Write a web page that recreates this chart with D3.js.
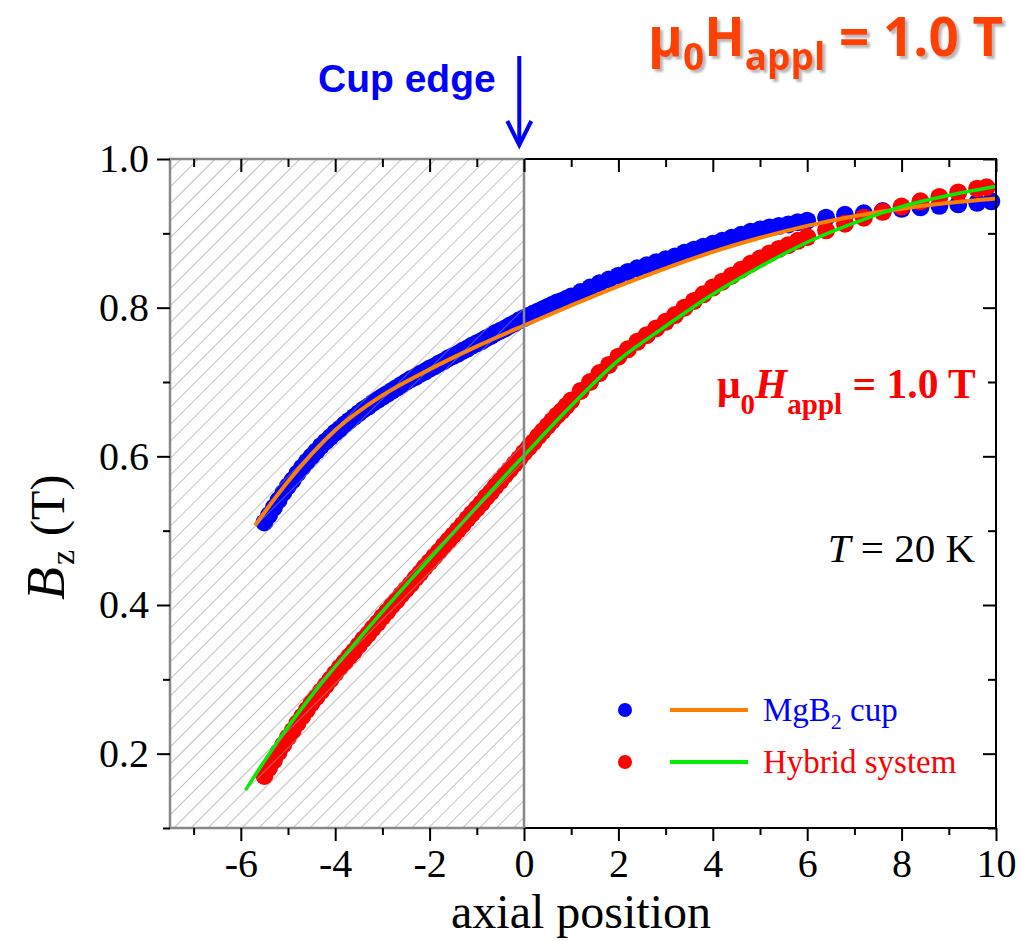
<!DOCTYPE html>
<meta charset="utf-8">
<style>
body { margin: 0; background: #fff; }
svg { display: block; }
.serif { font-family: "Liberation Serif", "Times New Roman", serif; }
.tick text { font-family: "Liberation Serif", serif; font-size: 40px; fill: #000; }
.tick line { stroke: #000; stroke-width: 2; }
</style>
<body>
<script src="https://d3js.org/d3.v7.min.js"></script>
<script>

// MgB2 cup, measured points
var cupX = [-5.5,-5.4,-5.3,-5.2,-5.1,-5.0,-4.9,-4.8,-4.7,-4.6,-4.5,-4.4,-4.3,-4.2,-4.1,-4.0,-3.9,-3.8,-3.7,-3.6,-3.5,-3.4,-3.3,-3.2,-3.1,-3.0,-2.9,-2.8,-2.7,-2.6,-2.5,-2.4,-2.3,-2.2,-2.1,-2.0,-1.9,-1.8,-1.7,-1.6,-1.5,-1.4,-1.3,-1.2,-1.1,-1.0,-0.9,-0.8,-0.7,-0.6,-0.5,-0.4,-0.3,-0.2,-0.1,0.0,0.1,0.2,0.3,0.4,0.5,0.6,0.7,0.8,0.9,1.0,
  1.2,1.4,1.6,1.8,2.0,2.2,2.4,2.6,2.8,3.0,3.2,3.4,3.6,3.8,4.0,4.2,4.4,4.6,4.8,5.0,5.2,5.4,5.6,5.8,6.0,
  6.4,6.8,7.2,7.6,8.0,8.4,8.8,9.2,9.6,9.9];
var cupY = [0.511,0.521,0.531,0.541,0.551,0.560,0.568,0.577,0.585,0.593,0.600,0.607,0.614,0.620,0.626,0.632,0.637,0.643,0.648,0.653,0.658,0.663,0.667,0.672,0.676,0.680,0.684,0.688,0.692,0.696,0.700,0.704,0.707,0.711,0.714,0.718,0.721,0.725,0.728,0.732,0.735,0.738,0.742,0.745,0.749,0.752,0.755,0.759,0.762,0.766,0.769,0.772,0.776,0.779,0.783,0.786,0.789,0.792,0.795,0.798,0.801,0.804,0.807,0.809,0.812,0.815,
  0.821,0.827,0.833,0.838,0.843,0.848,0.853,0.857,0.861,0.865,0.869,0.874,0.878,0.882,0.886,0.890,0.894,0.898,0.902,0.905,0.908,0.910,0.912,0.915,0.917,
  0.921,0.925,0.927,0.930,0.933,0.935,0.937,0.939,0.941,0.943];

// Hybrid system, measured points
var hybX = [-5.5,-5.4,-5.3,-5.2,-5.1,-5.0,-4.9,-4.8,-4.7,-4.6,-4.5,-4.4,-4.3,-4.2,-4.1,-4.0,-3.9,-3.8,-3.7,-3.6,-3.5,-3.4,-3.3,-3.2,-3.1,-3.0,-2.9,-2.8,-2.7,-2.6,-2.5,-2.4,-2.3,-2.2,-2.1,-2.0,-1.9,-1.8,-1.7,-1.6,-1.5,-1.4,-1.3,-1.2,-1.1,-1.0,-0.9,-0.8,-0.7,-0.6,-0.5,-0.4,-0.3,-0.2,-0.1,0.0,0.1,0.2,0.3,0.4,0.5,0.6,0.7,0.8,0.9,1.0,
  1.2,1.4,1.6,1.8,2.0,2.2,2.4,2.6,2.8,3.0,3.2,3.4,3.6,3.8,4.0,4.2,4.4,4.6,4.8,5.0,5.2,5.4,5.6,5.8,6.0,
  6.4,6.8,7.2,7.6,8.0,8.4,8.8,9.2,9.6,9.8];
var hybY = [0.170,0.181,0.191,0.202,0.212,0.222,0.231,0.241,0.250,0.259,0.268,0.276,0.284,0.292,0.300,0.308,0.316,0.323,0.331,0.338,0.346,0.354,0.361,0.369,0.376,0.384,0.391,0.399,0.406,0.414,0.421,0.428,0.436,0.443,0.451,0.458,0.465,0.472,0.480,0.487,0.494,0.501,0.508,0.516,0.523,0.530,0.537,0.545,0.552,0.560,0.567,0.575,0.582,0.590,0.597,0.605,0.612,0.619,0.627,0.634,0.641,0.648,0.655,0.661,0.668,0.675,
  0.688,0.700,0.712,0.723,0.734,0.744,0.754,0.763,0.772,0.781,0.790,0.800,0.809,0.818,0.827,0.835,0.843,0.851,0.859,0.866,0.873,0.879,0.884,0.890,0.895,
  0.904,0.913,0.921,0.929,0.936,0.943,0.949,0.955,0.960,0.962];

// fit curves
var cupFitX = [-5.7,-5,-4,-3,-2,-1,0,1,2,3,4,5,6,7,8,9,10];
var cupFitY = [0.507,0.566,0.635,0.682,0.717,0.748,0.776,0.803,0.829,0.853,0.875,0.894,0.910,0.923,0.933,0.941,0.947];
var hybFitX = [-5.9,-5.5,-5,-4.5,-4,-3.5,-3,-2.5,-2,-1.5,-1,-0.5,0,1,2,3,4,5,6,7,8,9,10];
var hybFitY = [0.151,0.190,0.236,0.278,0.317,0.354,0.391,0.427,0.462,0.497,0.532,0.567,0.601,0.668,0.729,0.775,0.818,0.855,0.888,0.914,0.936,0.951,0.963];

var xMajor = [-6,-4,-2,0,2,4,6,8,10];
var xMinor = [-7,-5,-3,-1,1,3,5,7,9];
var yMajor = [0.2,0.4,0.6,0.8,1.0];
var yMinor = [0.1,0.3,0.5,0.7,0.9];

var W = 1021, H = 941;
var x = d3.scaleLinear().domain([-7.5, 10]).range([170, 996]);
var y = d3.scaleLinear().domain([0.1, 1.0]).range([828, 159]);

var svg = d3.select('body').append('svg')
    .attr('width', W)
    .attr('height', H);

var defs = svg.append('defs');
var pat = defs.append('pattern')
    .attr('id', 'hatch')
    .attr('patternUnits', 'userSpaceOnUse')
    .attr('width', 12)
    .attr('height', 12)
    .attr('patternTransform', 'rotate(45)');
pat.append('line')
    .attr('x1', 0).attr('y1', 0).attr('x2', 0).attr('y2', 12)
    .attr('stroke', '#999').attr('stroke-width', 1.2);

var shadow = defs.append('filter')
    .attr('id', 'shadow')
    .attr('x', '-5%').attr('y', '-10%').attr('width', '115%').attr('height', '130%');
shadow.append('feDropShadow')
    .attr('dx', 3).attr('dy', 3).attr('stdDeviation', 1)
    .attr('flood-color', '#888').attr('flood-opacity', 0.6);

// data points
var cup = cupX.map(function(v, i) { return [v, cupY[i]]; });
var hyb = hybX.map(function(v, i) { return [v, hybY[i]]; });

svg.append('g').selectAll('circle')
    .data(cup)
  .enter().append('circle')
    .attr('cx', function(d) { return x(d[0]); })
    .attr('cy', function(d) { return y(d[1]); })
    .attr('r', 9)
    .attr('fill', '#0000ff');

svg.append('g').selectAll('circle')
    .data(hyb)
  .enter().append('circle')
    .attr('cx', function(d) { return x(d[0]); })
    .attr('cy', function(d) { return y(d[1]); })
    .attr('r', 9)
    .attr('fill', '#ff0000');

var line = d3.line()
    .x(function(d) { return x(d[0]); })
    .y(function(d) { return y(d[1]); })
    .curve(d3.curveMonotoneX);

svg.append('path')
    .datum(cupFitX.map(function(v, i) { return [v, cupFitY[i]]; }))
    .attr('d', line)
    .attr('fill', 'none')
    .attr('stroke', '#ff8000')
    .attr('stroke-width', 4);

svg.append('path')
    .datum(hybFitX.map(function(v, i) { return [v, hybFitY[i]]; }))
    .attr('d', line)
    .attr('fill', 'none')
    .attr('stroke', '#00ee00')
    .attr('stroke-width', 3.5);

// frame
svg.append('rect')
    .attr('x', x(-7.5)).attr('y', y(1.0))
    .attr('width', x(10) - x(-7.5))
    .attr('height', y(0.1) - y(1.0))
    .attr('fill', 'none')
    .attr('stroke', '#000')
    .attr('stroke-width', 2);

// hatched cup region
svg.append('rect')
    .attr('x', x(-7.5)).attr('y', y(1.0))
    .attr('width', x(0) - x(-7.5))
    .attr('height', y(0.1) - y(1.0))
    .attr('fill', 'url(#hatch)')
    .attr('stroke', '#888')
    .attr('stroke-width', 2.5);

// axes
function noDomain(g) { g.select('.domain').remove(); }
function fmtX(d) { return String(d); }

svg.append('g')
    .attr('transform', 'translate(0,' + y(0.1) + ')')
    .call(d3.axisBottom(x).tickValues(xMajor).tickSize(13).tickPadding(8).tickFormat(fmtX))
    .call(noDomain);
svg.append('g')
    .attr('transform', 'translate(0,' + y(0.1) + ')')
    .call(d3.axisBottom(x).tickValues(xMinor).tickSize(7).tickFormat(''))
    .call(noDomain);
svg.append('g')
    .attr('transform', 'translate(0,' + y(1.0) + ')')
    .call(d3.axisTop(x).tickValues(xMajor).tickSize(-13).tickFormat(''))
    .call(noDomain);
svg.append('g')
    .attr('transform', 'translate(0,' + y(1.0) + ')')
    .call(d3.axisTop(x).tickValues(xMinor).tickSize(-8).tickFormat(''))
    .call(noDomain);

svg.append('g')
    .attr('transform', 'translate(' + x(-7.5) + ',0)')
    .call(d3.axisLeft(y).tickValues(yMajor).tickSize(13).tickPadding(8).tickFormat(d3.format('.1f')))
    .call(noDomain);
svg.append('g')
    .attr('transform', 'translate(' + x(-7.5) + ',0)')
    .call(d3.axisLeft(y).tickValues(yMinor).tickSize(7).tickFormat(''))
    .call(noDomain);
svg.append('g')
    .attr('transform', 'translate(' + x(10) + ',0)')
    .call(d3.axisRight(y).tickValues(yMajor).tickSize(-13).tickFormat(''))
    .call(noDomain);
svg.append('g')
    .attr('transform', 'translate(' + x(10) + ',0)')
    .call(d3.axisRight(y).tickValues(yMinor).tickSize(-8).tickFormat(''))
    .call(noDomain);

svg.selectAll('.tick text').attr('font-family', null).attr('font-size', null);

// axis titles
svg.append('text')
    .attr('class', 'serif')
    .attr('x', 581).attr('y', 928)
    .attr('text-anchor', 'middle')
    .attr('font-size', 48)
    .text('axial position');

var yl = svg.append('text')
    .attr('class', 'serif')
    .attr('transform', 'translate(64,600) rotate(-90)')
    .attr('font-size', 48);
yl.append('tspan').attr('font-style', 'italic').attr('font-size', 54).text('B');
yl.append('tspan').attr('font-size', 34).attr('dy', 10).attr('dx', 2).text('z');
yl.append('tspan').attr('dy', -10).attr('dx', 14).text('(T)');

// top title
var tt = svg.append('text')
    .attr('x', 648).attr('y', 56)
    .attr('font-family', '"Open Sans", sans-serif')
    .attr('font-weight', 'bold')
    .attr('font-size', 53)
    .attr('fill', '#ff3f00')
    .attr('filter', 'url(#shadow)');
tt.append('tspan').text('\u03bc');
tt.append('tspan').attr('font-size', 37).attr('dy', 14).text('0');
tt.append('tspan').attr('dy', -14).text('H');
tt.append('tspan').attr('font-size', 37).attr('dy', 14).text('appl');
tt.append('tspan').attr('dy', -14).text(' = 1.0 T');

// cup edge label + arrow
svg.append('text')
    .attr('x', 318).attr('y', 92)
    .attr('font-family', '"Liberation Sans", Arial, sans-serif')
    .attr('font-weight', 'bold')
    .attr('font-size', 39)
    .attr('fill', '#0000ff')
    .text('Cup edge');

svg.append('line')
    .attr('x1', x(-0.1)).attr('y1', 56)
    .attr('x2', x(-0.1)).attr('y2', 140)
    .attr('stroke', '#0000ff')
    .attr('stroke-width', 4);
svg.append('path')
    .attr('d', 'M' + (x(-0.1) - 12) + ',121 L' + x(-0.1) + ',145 L' + (x(-0.1) + 12) + ',121')
    .attr('fill', 'none')
    .attr('stroke', '#0000ff')
    .attr('stroke-width', 4);

// field annotation
var fa = svg.append('text')
    .attr('class', 'serif')
    .attr('x', 717).attr('y', 398)
    .attr('font-weight', 'bold')
    .attr('font-size', 41.5)
    .attr('fill', '#ff0000');
fa.append('tspan').text('\u03bc');
fa.append('tspan').attr('font-size', 29).attr('dy', 16).text('0');
fa.append('tspan').attr('dy', -16).attr('font-style', 'italic').text('H');
fa.append('tspan').attr('font-size', 29).attr('dy', 16).text('appl');
fa.append('tspan').attr('dy', -16).text(' = 1.0 T');

var ta = svg.append('text')
    .attr('class', 'serif')
    .attr('x', 975).attr('y', 562)
    .attr('text-anchor', 'end')
    .attr('font-size', 41);
ta.append('tspan').attr('font-style', 'italic').text('T');
ta.append('tspan').text(' = 20 K');

// legend
var legend = [
  {dot: '#0000ff', line: '#ff8000', text: 'MgB', sub: '2', rest: ' cup', y: 710},
  {dot: '#ff0000', line: '#00ee00', text: 'Hybrid system', sub: '', rest: '', y: 762}
];
legend.forEach(function(l) {
  svg.append('circle').attr('cx', 625).attr('cy', l.y).attr('r', 7).attr('fill', l.dot);
  svg.append('line').attr('x1', 670).attr('x2', 748).attr('y1', l.y).attr('y2', l.y)
      .attr('stroke', l.line).attr('stroke-width', 4);
  var t = svg.append('text')
      .attr('class', 'serif')
      .attr('x', 763).attr('y', l.y + 11)
      .attr('font-size', 33)
      .attr('fill', l.dot);
  t.append('tspan').text(l.text);
  if (l.sub) {
    t.append('tspan').attr('font-size', 22).attr('dy', 8).text(l.sub);
    t.append('tspan').attr('dy', -8).text(l.rest);
  }
});

</script>
</body>
